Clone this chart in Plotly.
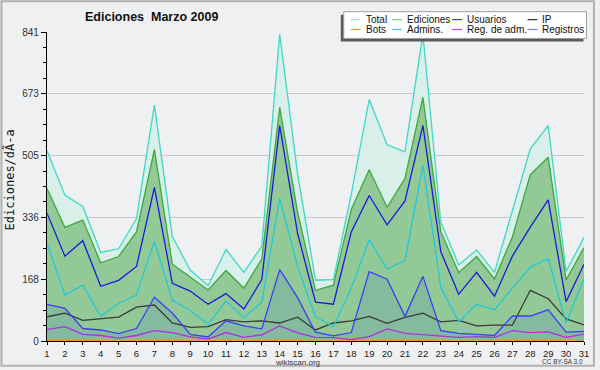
import plotly.graph_objects as go

# ---------------- data ----------------
days = list(range(1, 32))
day_labels = [str(d) for d in days]

total = [518, 397, 366, 241, 251, 333, 642, 285, 193, 151, 249, 187, 258, 835, 455, 165,
         167, 400, 657, 534, 515, 835, 324, 207, 248, 187, 355, 523, 586, 189, 282]
ediciones = [415, 309, 329, 213, 230, 297, 521, 209, 174, 139, 192, 144, 223, 636, 350, 138,
             152, 358, 466, 364, 443, 663, 297, 186, 230, 169, 283, 453, 500, 166, 254]
usuarios = [348, 231, 273, 149, 165, 203, 418, 157, 136, 100, 129, 87, 167, 586, 293, 106,
            100, 297, 396, 316, 381, 587, 243, 127, 187, 122, 231, 310, 384, 107, 209]
ip = [66, 76, 56, 60, 65, 92, 98, 49, 37, 39, 58, 52, 55, 49, 65, 30,
      49, 55, 67, 48, 64, 76, 52, 56, 41, 43, 43, 138, 115, 60, 44]
bots = [0, 0, 0, 0, 0, 0, 0, 0, 0, 0, 0, 0, 0, 0, 0, 0,
        0, 0, 0, 0, 0, 0, 0, 0, 0, 0, 0, 0, 0, 0, 0]
admins = [265, 125, 152, 67, 102, 125, 271, 111, 83, 46, 109, 63, 106, 388, 203, 66,
          39, 144, 276, 196, 219, 479, 146, 52, 100, 85, 144, 201, 224, 49, 171]
reg_adm = [31, 39, 18, 15, 8, 15, 28, 23, 11, 5, 23, 10, 17, 41, 22, 10,
           9, 4, 12, 33, 21, 18, 15, 10, 12, 10, 28, 23, 25, 10, 19]
registros = [100, 89, 34, 30, 20, 34, 119, 76, 18, 11, 55, 41, 33, 194, 118, 24,
             14, 23, 189, 168, 67, 176, 28, 21, 18, 15, 68, 68, 85, 24, 26]

ytick_vals = [0, 168.2, 336.4, 504.6, 672.8, 841]
ytick_text = ["0", "168", "336", "505", "673", "841"]
y_minor = [42.05 * k for k in range(1, 20)]

legend_rows = [["Total", "Ediciones", "Usuarios", "IP"],
               ["Bots", "Admins.", "Reg. de adm.", "Registros"]]
legend_colors = [["#9fe6dc", "#7ccf7c", "#3a3aff", "#333333"],
                 ["#ff9a30", "#3fd4e4", "#d040f0", "#7a7aff"]]

title_text = "Ediciones\u00a0\u00a0Marzo 2009"
ytitle_text = "Ediciones/dÃ-a"

# ---------------- layout helpers ----------------
W, H = 600, 370
ML, MR, MT, MB = 47, 11, 32, 26
PW, PH = W - ML - MR, H - MT - MB


def px(x):
    return (x - ML) / PW


def py(y):
    return (H - MB - y) / PH


BG = "#eff0f1"

fig = go.Figure()

# fills
fig.add_trace(go.Scatter(x=days, y=total, mode="lines", fill="tozeroy",
                         fillcolor="#d9efe9", line=dict(width=0), hoverinfo="skip"))
fig.add_trace(go.Scatter(x=days, y=ediciones, mode="lines", fill="tozeroy",
                         fillcolor="#93c996", line=dict(width=0), hoverinfo="skip"))
fig.add_trace(go.Scatter(x=days, y=registros, mode="lines", fill="tozeroy",
                         fillcolor="#84bb9f", line=dict(width=0), hoverinfo="skip"))

# lines
lines = [
    (bots, "#ff9020"),
    (reg_adm, "#b02ee0"),
    (ip, "#3a3a3a"),
    (registros, "#3e3ef5"),
    (admins, "#22c8d8"),
    (usuarios, "#1a1ade"),
    (ediciones, "#3ca83a"),
    (total, "#3dd8c6"),
]
for ys, c in lines:
    fig.add_trace(go.Scatter(x=days, y=ys, mode="lines",
                             line=dict(color=c, width=1.3), hoverinfo="skip"))

shapes = []
annotations = []

# outer border
shapes.append(dict(type="rect", xref="paper", yref="paper",
                   x0=px(1), x1=px(599), y0=py(1), y1=py(369),
                   line=dict(color="#b0b0b0", width=2), fillcolor="rgba(0,0,0,0)", layer="below"))

# legend box with shadow
shapes.append(dict(type="rect", xref="paper", yref="paper",
                   x0=px(343.5), x1=px(588.5), y0=py(41.5), y1=py(14.5),
                   line=dict(width=0), fillcolor="#5a5a5a"))
shapes.append(dict(type="rect", xref="paper", yref="paper",
                   x0=px(346.5), x1=px(591.5), y0=py(38.5), y1=py(11.5),
                   line=dict(color="#a0a0a0", width=1), fillcolor="#ffffff"))

col_text_x = [366.5, 408.5, 469, 545]
row_y = [19.5, 29.5]
for r in range(2):
    for c in range(4):
        tx = col_text_x[c]
        yy = row_y[r]
        shapes.append(dict(type="line", xref="paper", yref="paper",
                           x0=px(tx - 13), x1=px(tx - 3), y0=py(yy), y1=py(yy),
                           line=dict(color=legend_colors[r][c], width=1.2)))
        annotations.append(dict(xref="paper", yref="paper", x=px(tx), y=py(yy),
                                text=legend_rows[r][c], showarrow=False,
                                xanchor="left", yanchor="middle",
                                font=dict(family="Liberation Sans", size=10, color="#111111")))

# title
annotations.append(dict(xref="paper", yref="paper", x=px(152.5), y=py(17),
                        text="<b>" + title_text + "</b>", showarrow=False,
                        xanchor="center", yanchor="middle",
                        font=dict(family="Liberation Sans", size=12.5, color="#111111")))
# y title
annotations.append(dict(xref="paper", yref="paper", x=px(9.5), y=py(181),
                        text=ytitle_text, showarrow=False, textangle=-90,
                        xanchor="center", yanchor="middle",
                        font=dict(family="DejaVu Sans Mono", size=12, color="#111111")))
# footer
annotations.append(dict(xref="paper", yref="paper", x=px(300), y=py(365.5),
                        text="wikiscan.org", showarrow=False,
                        xanchor="center", yanchor="middle", borderpad=0,
                        font=dict(family="Liberation Sans", size=8, color="#333333")))
annotations.append(dict(xref="paper", yref="paper", x=px(589), y=py(365),
                        text="CC BY-SA 3.0", showarrow=False,
                        xanchor="right", yanchor="middle", borderpad=0,
                        font=dict(family="Liberation Sans", size=6.5, color="#333333")))

fig.update_layout(
    width=W, height=H,
    margin=dict(l=ML, r=MR, t=MT, b=MB, pad=0),
    paper_bgcolor=BG, plot_bgcolor=BG,
    showlegend=False,
    shapes=shapes, annotations=annotations,
    xaxis=dict(range=[1, 31], tickmode="array", tickvals=days, ticktext=day_labels,
               ticks="outside", ticklen=3, tickcolor="#000000", tickwidth=1,
               showline=True, linecolor="#000000", linewidth=1.2,
               showgrid=False, zeroline=False, layer="above traces",
               tickfont=dict(family="Liberation Sans Narrow, Liberation Sans", size=9.5, color="#222222")),
    yaxis=dict(range=[0, 841], tickmode="array", tickvals=ytick_vals, ticktext=ytick_text,
               ticks="outside", ticklen=5, tickcolor="#000000", tickwidth=1,
               minor=dict(tickmode="array", tickvals=y_minor, ticks="outside",
                          ticklen=3, tickcolor="#000000", showgrid=False),
               showline=True, linecolor="#000000", linewidth=1.2,
               showgrid=True, gridcolor="#c9c9c9", gridwidth=1,
               zeroline=False, layer="above traces",
               tickfont=dict(family="Liberation Sans Narrow, Liberation Sans", size=10, color="#333333")),
)

fig.write_html("out.html", config={"displayModeBar": False})

# remove the default page margin so the 600x370 figure fills the window exactly
with open("out.html", "r", encoding="utf-8") as f:
    html = f.read()
html = html.replace("<head>", "<head><style>html,body{margin:0;padding:0;overflow:hidden;}</style>", 1)
with open("out.html", "w", encoding="utf-8") as f:
    f.write(html)
